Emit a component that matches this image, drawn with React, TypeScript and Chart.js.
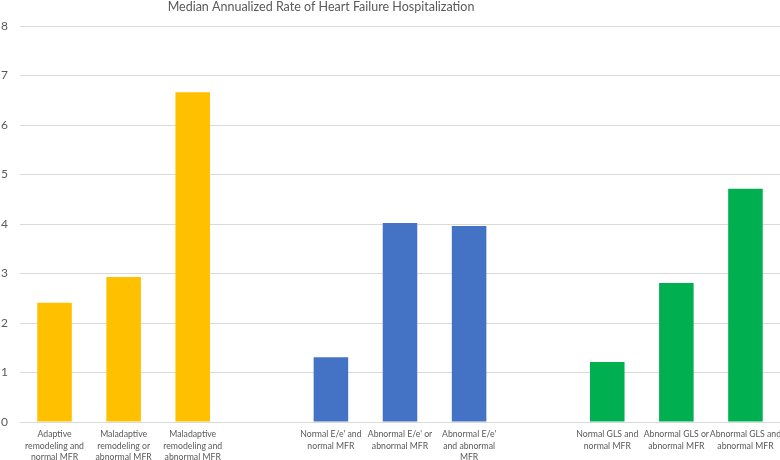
import React, { useEffect, useRef } from "react";
import { Chart, registerables } from "chart.js";

Chart.register(...registerables);

const TITLE = "Median Annualized Rate of Heart Failure Hospitalization";

const categories: string[][] = [
  ["Adaptive", "remodeling and", "normal MFR"],
  ["Maladaptive", "remodeling or", "abnormal MFR"],
  ["Maladaptive", "remodeling and", "abnormal MFR"],
  [""],
  ["Normal E/e' and", "normal MFR"],
  ["Abnormal E/e' or", "abnormal MFR"],
  ["Abnormal E/e'", "and abnormal", "MFR"],
  [""],
  ["Normal GLS and", "normal MFR"],
  ["Abnormal GLS or", "abnormal MFR"],
  ["Abnormal GLS and", "abnormal MFR"],
];

const values: (number | null)[] = [2.41, 2.93, 6.66, null, 1.31, 4.02, 3.96, null, 1.21, 2.81, 4.71];

const barColors: string[] = [
  "#FFC000", "#FFC000", "#FFC000", "#FFFFFF",
  "#4472C4", "#4472C4", "#4472C4", "#FFFFFF",
  "#00B050", "#00B050", "#00B050",
];

const yTicks: number[] = [0, 1, 2, 3, 4, 5, 6, 7, 8];

const FONT = "Lato, 'Open Sans', sans-serif";
const TEXT = "#595959";

const titlePlugin = {
  id: "customTitle",
  afterDraw(chart: any) {
    const ctx = chart.ctx;
    ctx.save();
    ctx.font = `12.5px ${FONT}`;
    ctx.fillStyle = TEXT;
    ctx.textAlign = "center";
    ctx.textBaseline = "middle";
    ctx.fillText(TITLE, 321, 7);
    ctx.restore();
  },
};

export default function App() {
  const ref = useRef<HTMLCanvasElement | null>(null);

  useEffect(() => {
    if (!ref.current) return;
    const chart = new Chart(ref.current, {
      type: "bar",
      data: {
        labels: categories,
        datasets: [
          {
            data: values,
            backgroundColor: barColors,
            borderWidth: 0,
            barPercentage: 0.5,
            categoryPercentage: 1,
          },
        ],
      },
      options: {
        animation: false,
        responsive: false,
        maintainAspectRatio: false,
        layout: { padding: { top: 26, right: 0, bottom: 0, left: 0 } },
        plugins: {
          legend: { display: false },
          title: { display: false },
          tooltip: { enabled: false },
        },
        scales: {
          x: {
            grid: { display: false, drawTicks: false },
            border: { display: true, color: "#D9D9D9", width: 1 },
            ticks: {
              color: TEXT,
              font: { family: FONT, size: 8.7, lineHeight: 1.3 },
              maxRotation: 0,
              minRotation: 0,
              autoSkip: false,
              padding: 7,
            },
            afterFit(scale: any) {
              scale.height = 38;
              scale.paddingLeft = 0;
              scale.paddingRight = 0;
            },
          },
          y: {
            min: 0,
            max: 8,
            afterBuildTicks(scale: any) {
              scale.ticks = yTicks.map((v) => ({ value: v }));
            },
            grid: { color: "#D9D9D9", lineWidth: 1, drawTicks: false },
            border: { display: false },
            ticks: {
              color: TEXT,
              font: { family: FONT, size: 12 },
              padding: 12,
            },
            afterFit(scale: any) {
              scale.width = 20;
            },
          },
        },
      },
      plugins: [titlePlugin],
    });
    return () => chart.destroy();
  }, []);

  return (
    <div style={{ position: "fixed", left: 0, top: 0, width: 780, height: 460, background: "#fff" }}>
      <canvas ref={ref} width={780} height={460} style={{ width: 780, height: 460 }} />
    </div>
  );
}
